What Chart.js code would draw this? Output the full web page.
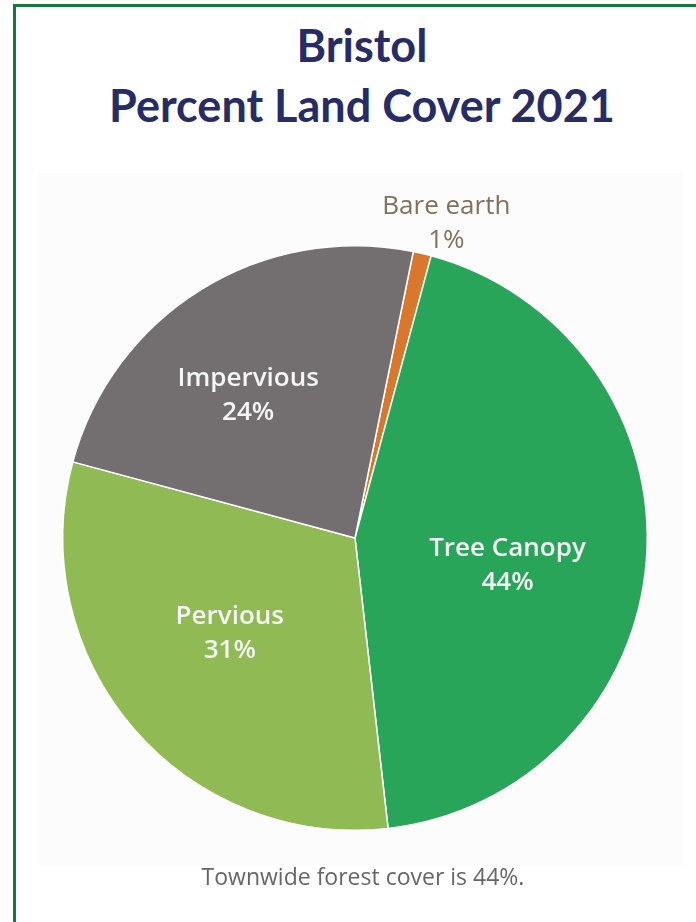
<!DOCTYPE html>
<html>
<head>
<meta charset="utf-8">
<script src="https://cdn.jsdelivr.net/npm/chart.js@4.4.1/dist/chart.umd.min.js"></script>
<style>
  html, body { margin: 0; padding: 0; background: #fff; overflow: hidden; }
  #page { position: relative; width: 696px; height: 922px; }
  #frame { position: absolute; left: 13px; top: 4px; width: 720px; height: 960px;
           border-left: 3px solid #137a3c; border-top: 3px solid #137a3c; }
  #panel { position: absolute; left: 39px; top: 173px; width: 644px; height: 692px; background: #fcfcfc; }
  #title { position: absolute; left: 0; top: 15px; width: 724px; text-align: center;
           font-family: Lato, sans-serif; font-weight: 700; font-size: 45px; line-height: 60px; color: #262c66; }
  #note { position: absolute; left: 0; top: 860px; width: 726px; text-align: center;
          font-family: "Open Sans", sans-serif; font-size: 23px; line-height: 32px; color: #666; }
  canvas { position: absolute; left: 0; top: 0; }
</style>
</head>
<body>
<div id="page">
  <div id="frame"></div>
  <div id="panel"></div>
  <div id="title">Bristol<br>Percent Land Cover 2021</div>
  <canvas id="grafico" width="696" height="922"></canvas>
  <div id="note">Townwide forest cover is 44%.</div>
</div>
<script>
// dados
const categorias = ["Bare earth", "Tree Canopy", "Pervious", "Impervious"];
const percentuais = [1, 44, 31, 24];
const cores = ["#d9782c", "#29a55a", "#8fba54", "#736e6f"];

// posição dos rótulos (fração do raio, desvio do ângulo em graus)
const posRotulos = [
  { r: 1.12, da: 2.9, cor: "#83705c", peso: "400" },
  { r: 0.53, da: 5.8, cor: "#f6f6f6", peso: "600" },
  { r: 0.54, da: 3.2, cor: "#f6f6f6", peso: "600" },
  { r: 0.61, da: -5.1, cor: "#f6f6f6", peso: "600" }
];

// desenha os rótulos em cada fatia
const rotulosPlugin = {
  id: "rotulos",
  afterDatasetsDraw(chart) {
    const ctx = chart.ctx;
    const meta = chart.getDatasetMeta(0);
    meta.data.forEach((arco, i) => {
      const { x, y, startAngle, endAngle, outerRadius } = arco.getProps(["x", "y", "startAngle", "endAngle", "outerRadius"], true);
      const p = posRotulos[i];
      const ang = (startAngle + endAngle) / 2 + p.da * Math.PI / 180;
      const lx = x + Math.cos(ang) * outerRadius * p.r;
      const ly = y + Math.sin(ang) * outerRadius * p.r;
      ctx.save();
      ctx.fillStyle = p.cor;
      ctx.font = p.peso + " 26px 'Open Sans', sans-serif";
      ctx.textAlign = "center";
      ctx.textBaseline = "middle";
      ctx.fillText(categorias[i], lx, ly - 17);
      ctx.fillText(percentuais[i] + "%", lx, ly + 17);
      ctx.restore();
    });
  }
};

const grafico = new Chart(document.getElementById("grafico").getContext("2d"), {
  type: "pie",
  data: {
    labels: categorias,
    datasets: [{
      data: percentuais,
      backgroundColor: cores,
      borderColor: "#ffffff",
      borderWidth: 1.5
    }]
  },
  options: {
    responsive: false,
    animation: false,
    rotation: 11.5,
    layout: { padding: { left: 62, right: 48, top: 245, bottom: 91 } },
    plugins: { legend: { display: false }, tooltip: { enabled: false }, title: { display: false } }
  },
  plugins: [rotulosPlugin]
});
</script>
</body>
</html>
